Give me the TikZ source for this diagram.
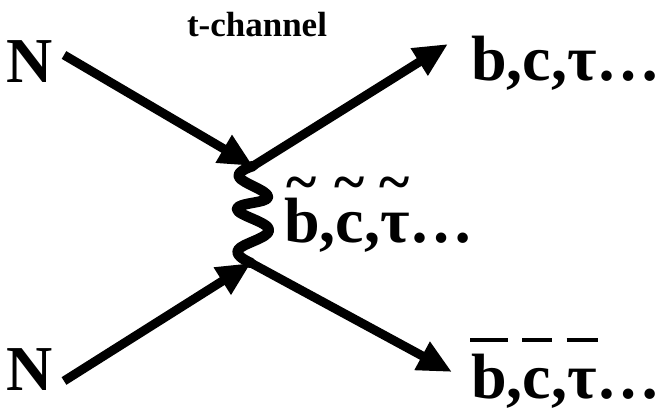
\documentclass[tikz,border=0pt]{standalone}
\usepackage{fontspec}
\setmainfont{Liberation Serif}
\usetikzlibrary{arrows.meta}
\newcommand\obar[1]{\setbox0\hbox{#1}\rlap{\hspace{-0.02\wd0}\raisebox{0.88em}{\rule{1.05\wd0}{0.065em}}}\box0}
\newcommand\wtil[1]{\setbox0\hbox{#1}\rlap{\makebox[\wd0]{\raisebox{0.64em}{\fontsize{58}{58}\selectfont\textasciitilde}}}\box0}
\tikzset{
  lbl/.style={font=\bfseries\fontsize{64}{64}\selectfont, inner sep=0pt, anchor=base west},
  fermion/.style={line width=9pt, -{Triangle[length=34pt,width=30pt]}},
  prop/.style={line width=10.5pt, line cap=round, line join=round}
}
\begin{document}
\begin{tikzpicture}[x=1pt,y=-1pt]
\useasboundingbox (0,0) rectangle (665,410);
\node[lbl] (n1) at (6,82) {N};
\node[lbl] (n2) at (6,390) {N};
\node[font=\bfseries\fontsize{35}{35}\selectfont, inner sep=0pt, anchor=base] (tc) at (257,36) {t-channel};
\node[lbl] (bct) at (471,80) {b,c,τ…};
\node[lbl] (sbct) at (284,242) {\wtil{b},\wtil{c},\wtil{τ}…};
\node[lbl] (abct) at (471,398) {\obar{b},\obar{c},\obar{τ}…};
\coordinate (v1) at (253,166);
\coordinate (v2) at (251,263);
\coordinate (a) at (64,55);
\coordinate (b) at (448,44);
\coordinate (c) at (64,381);
\coordinate (d) at (452,372);
\draw[fermion] (a) -- (v1);
\draw[fermion] (v1) -- (b);
\draw[fermion] (c) -- (v2);
\draw[fermion] (v2) -- (d);
\draw[prop] plot[smooth, tension=0.7] coordinates {(v1) (239,177) (268,197) (237,209) (269,230) (238,250) (v2)};
\end{tikzpicture}
\end{document}
